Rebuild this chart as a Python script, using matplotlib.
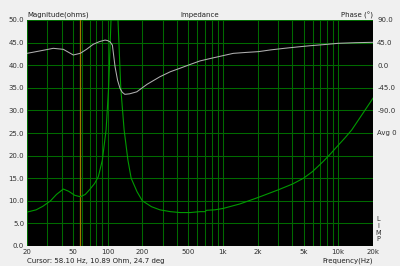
import matplotlib
matplotlib.use("Agg")
import matplotlib.pyplot as plt
import numpy as np

# impedance magnitude (ohms)
freq_mag = [20, 24, 27.5, 32, 36, 41.3, 46, 52, 58, 64, 70, 77, 83, 90, 97, 102, 107,
            111, 115, 119, 123, 130, 139, 150, 160, 180, 200, 240, 284, 350, 425,
            520, 632, 700, 720, 850, 1000, 1400, 2000, 3000, 4000, 5000, 6000, 7400,
            8500, 10000, 11500, 13100, 16000, 20000]
mag = [7.5, 8.0, 8.8, 10.0, 11.4, 12.6, 12.1, 11.2, 10.9, 11.4, 12.5, 13.8, 15.3, 19.0,
       25.7, 35.0, 50.0, 64.0, 70.0, 64.0, 50.0, 35.0, 25.7, 19.0, 15.0, 12.0, 10.0,
       8.7, 8.0, 7.6, 7.4, 7.4, 7.6, 7.6, 7.9, 8.0, 8.3, 9.3, 10.7, 12.4, 13.7, 15.0,
       16.5, 18.7, 20.3, 22.3, 24.0, 25.7, 29.0, 32.7]

# phase (deg)
freq_ph = [20, 26, 33.8, 41.3, 46, 50.4, 58, 66, 75, 85, 95, 100, 105, 110, 116, 122,
           128, 134, 141, 155, 179, 220, 284, 350, 425, 520, 632, 800, 1000, 1230,
           1600, 2030, 2600, 3400, 4500, 5700, 7500, 10000, 14000, 20000]
phase = [23.6, 28.5, 33.6, 31.6, 25.5, 20.3, 23.7, 32.0, 41.6, 47.0, 50.0, 49.0, 46.5,
         40.0, -3.0, -30.0, -46.0, -54.0, -58.0, -57.0, -53.0, -38.0, -23.0, -13.0, -6.0,
         1.5, 8.5, 14.0, 19.0, 23.6, 25.5, 27.0, 30.5, 33.6, 36.5, 38.8, 41.0, 43.6,
         44.8, 45.6]

cursor_freq = 58.1
x_ticks = [20, 50, 100, 200, 500, 1000, 2000, 5000, 10000, 20000]
x_labels = ["20", "50", "100", "200", "500", "1k", "2k", "5k", "10k", "20k"]
y_ticks = np.arange(0, 51, 5)
phase_ticks = [90, 45, 0, -45, -90, -135]
phase_labels = ["90.0", "45.0", "0.0", "-45.0", "-90.0", "Avg 0"]

bg = "#f0f0f0"
grid_col = "#006a00"
fs = 5

fig = plt.figure(figsize=(4, 2.66), dpi=100, facecolor=bg)
ax = fig.add_axes([27 / 400, 20 / 266, 346 / 400, 226 / 266])
ax.set_facecolor("black")

# grid lines at every decade step
minor = [m * d for d in (10, 100, 1000, 10000) for m in range(1, 10)]
minor = [f for f in minor if 20 <= f <= 20000]
for f in minor:
    ax.axvline(f, color=grid_col, lw=0.75, zorder=1)
for v in y_ticks:
    ax.axhline(v, color=grid_col, lw=0.75, zorder=1)
ax.axvline(cursor_freq, color="#a07800", lw=0.9, zorder=2)

ax.plot(freq_mag, mag, color="#009a00", lw=0.8, zorder=3)

ax.set_xscale("log")
ax.set_xlim(20, 20000)
ax.set_ylim(0, 50)
ax.set_xticks(x_ticks)
ax.set_xticklabels(x_labels)
ax.xaxis.set_minor_locator(matplotlib.ticker.NullLocator())
ax.set_yticks(y_ticks)
ax.set_yticklabels([f"{v:.1f}" for v in y_ticks])
ax.tick_params(length=0, labelsize=fs, colors="#303030", pad=2)
for s in ax.spines.values():
    s.set_visible(False)

ax2 = ax.twinx()
ax2.plot(freq_ph, phase, color="#b0b0b0", lw=0.75, zorder=4)
ax2.set_ylim(-360, 90)
ax2.set_yticks(phase_ticks)
ax2.set_yticklabels(phase_labels)
ax2.tick_params(length=0, labelsize=fs, colors="#303030", pad=3)
for s in ax2.spines.values():
    s.set_visible(False)

# labels around the plot
fig.text(27 / 400, 1 - 15 / 266, "Magnitude(ohms)", fontsize=fs, va="center", ha="left", color="#202020")
fig.text(200 / 400, 1 - 15 / 266, "Impedance", fontsize=fs, va="center", ha="center", color="#202020")
fig.text(373 / 400, 1 - 15 / 266, "Phase (°)", fontsize=fs, va="center", ha="right", color="#202020")
fig.text(27 / 400, 1 - 261 / 266, "Cursor: 58.10 Hz, 10.89 Ohm, 24.7 deg", fontsize=fs,
         va="center", ha="left", color="#202020")
fig.text(373 / 400, 1 - 261 / 266, "Frequency(Hz)", fontsize=fs, va="center", ha="right", color="#202020")
for i, ch in enumerate("LIMP"):
    fig.text(378 / 400, 1 - (219 + i * 6.8) / 266, ch, fontsize=4.8, va="center", ha="center", color="#303030")

fig.savefig("out.png", dpi=100, facecolor=bg)
